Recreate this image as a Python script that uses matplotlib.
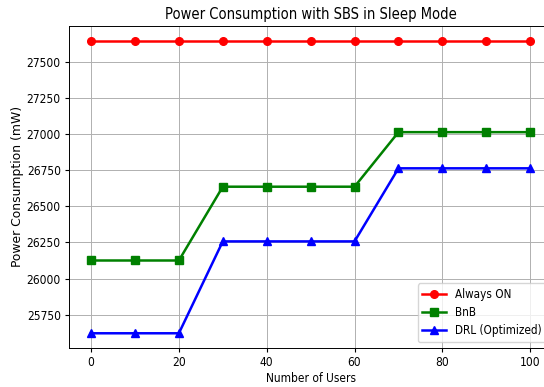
import numpy as np
import matplotlib
matplotlib.use("Agg")
import matplotlib.pyplot as plt

users = [0, 10, 20, 30, 40, 50, 60, 70, 80, 90, 100]
always_on = [27645] * 11
bnb = [26125, 26125, 26125, 26635, 26635, 26635, 26635, 27012, 27012, 27012, 27012]
drl = [25622, 25622, 25622, 26257, 26257, 26257, 26257, 26762, 26762, 26762, 26762]

# reference looks like a bigger figure shrunk (a bit more across than down)
plt.rcParams["font.family"] = ["DejaVu Sans"]
plt.rcParams["font.stretch"] = "condensed"
plt.rcParams["font.size"] = 8.6
plt.rcParams["xtick.major.size"] = 3.0
plt.rcParams["ytick.major.size"] = 3.0
plt.rcParams["xtick.major.pad"] = 3.0
plt.rcParams["ytick.major.pad"] = 3.0
plt.rcParams["axes.linewidth"] = 0.7
plt.rcParams["grid.linewidth"] = 0.7

fig = plt.figure(figsize=(5.44, 3.87), dpi=100)
# axes run past the right edge, the reference is cropped there
ax = fig.add_axes([0.127, 0.101, 0.888, 0.832])

ax.plot(users, always_on, color="red", marker="o", lw=1.8, ms=5.5, label="Always ON")
ax.plot(users, bnb, color="green", marker="s", lw=1.8, ms=5.5, label="BnB")
ax.plot(users, drl, color="blue", marker="^", lw=1.8, ms=5.5, label="DRL (Optimized)")

ax.set_title("Power Consumption with SBS in Sleep Mode", fontsize=10.5, pad=5)
ax.set_xlabel("Number of Users", labelpad=2)
# vertical text was not squeezed in the reference
ax.set_ylabel("Power Consumption (mW)", labelpad=1.5, fontsize=8.9, fontstretch="normal")
ax.grid(True)
ax.legend(loc="lower right", fontsize=8.4, labelspacing=0.45)

fig.savefig("out.png", dpi=100)
